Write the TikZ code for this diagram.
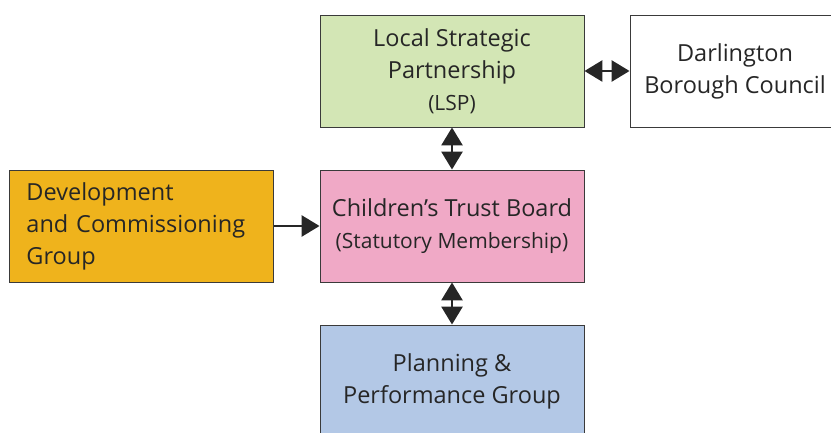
\documentclass[tikz,border=0pt]{standalone}
\usepackage{fontspec}
\setmainfont{Open Sans}
\usetikzlibrary{arrows.meta}
\newcommand{\unitsize}{1pt}
\newcommand{\subline}{\fontsize{21}{32}\selectfont}

\definecolor{lspgreen}{HTML}{D3E6B5}
\definecolor{boardpink}{HTML}{F0A9C6}
\definecolor{devorange}{HTML}{EFB31C}
\definecolor{planblue}{HTML}{B3C8E6}
\definecolor{edgegray}{HTML}{3A3A3A}

\begin{document}
\begin{tikzpicture}[x=\unitsize,y=\unitsize,>={Triangle[length=18pt,width=21pt]}]
\useasboundingbox (0,0) rectangle (831,432);
\tikzstyle{every node}=[draw=edgegray,
                        rectangle,
                        line width=0.9pt,
                        minimum width = 264*\unitsize,
                        minimum height = 112*\unitsize,
                        inner sep=0pt,
                        align=center,
                        text=black!85,
                        font=\fontsize{23.5}{32}\selectfont
                        ]
\tikzstyle{link}=[line width=2.8pt, draw=black!85]
\node[fill=lspgreen] (lsp) at (452,361) {Local Strategic\\Partnership\\{\subline(LSP)}};
\node[fill=white, minimum width=210*\unitsize] (dbc) at (735,361) {Darlington\\Borough Council};
\node[fill=boardpink] (ctb) at (452,206) {Children’s Trust Board\\{\subline(Statutory Membership)}};
\node[fill=devorange, align=left, text width=230*\unitsize] (dcg) at (141.5,206) {Development\\and Commissioning\\Group};
\node[fill=planblue] (ppg) at (452,51) {Planning \&\\Performance Group};
\draw[link, <->] (lsp.east) -- (dbc.west);
\draw[link, <->] (lsp.south) -- (ctb.north);
\draw[link, ->] (dcg.east) -- (ctb.west);
\draw[link, <->] (ctb.south) -- (ppg.north);
\end{tikzpicture}
\end{document}
